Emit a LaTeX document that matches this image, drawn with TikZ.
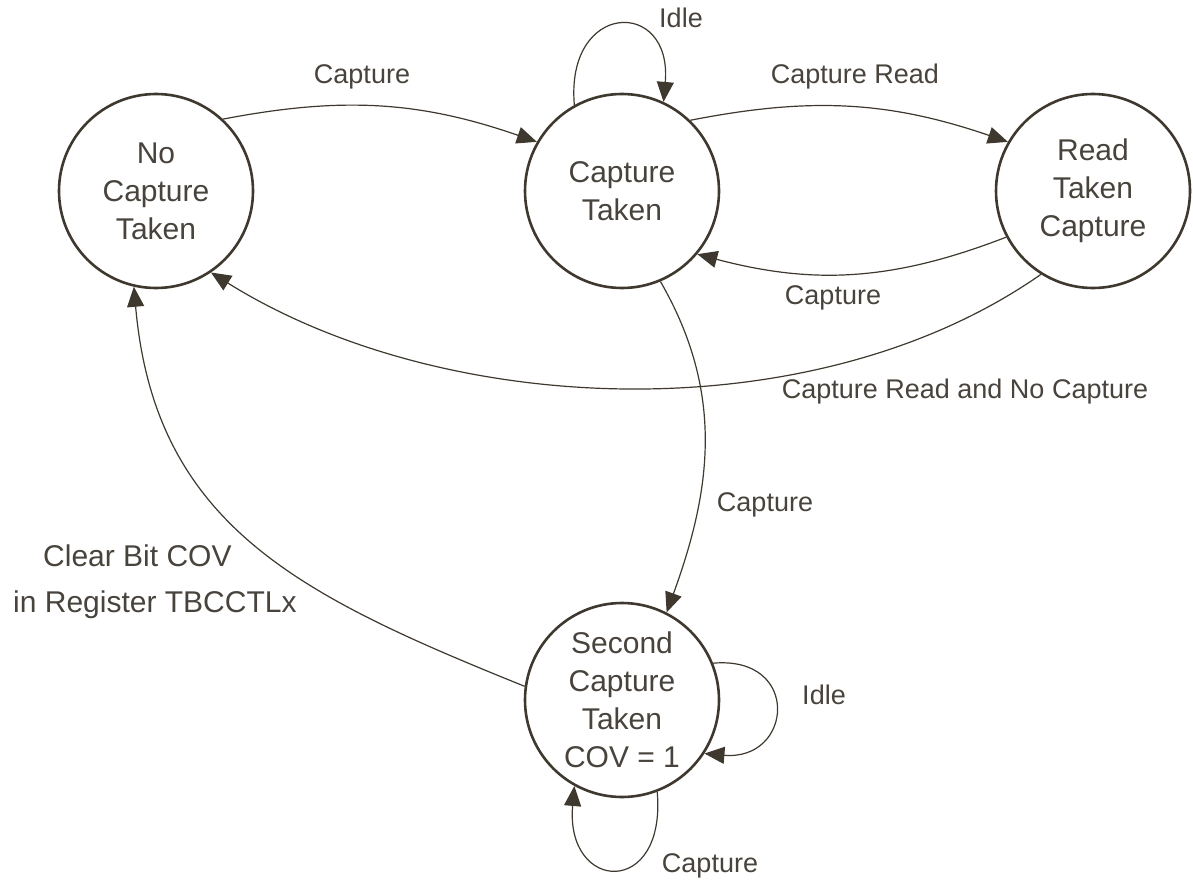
\documentclass[tikz,border=0pt]{standalone}
\usepackage{fontspec}
\setmainfont{Liberation Sans}
\usetikzlibrary{arrows.meta}
\definecolor{ink}{RGB}{62,56,46}
\definecolor{txt}{RGB}{72,67,60}
\tikzset{
  state/.style={circle, draw=ink, line width=2.6pt, minimum size=194pt, inner sep=0pt,
    align=center, font=\fontsize{30}{38}\selectfont, text=txt},
  conn/.style={draw=ink, line width=1.2pt, -{Triangle[length=20pt,width=17pt]}},
  lbl/.style={font=\fontsize{27}{32}\selectfont, text=txt, inner sep=0pt},
  biglbl/.style={font=\fontsize{30}{36}\selectfont, text=txt, inner sep=0pt}
}
\begin{document}
\begin{tikzpicture}[x=1pt,y=-1pt]
\useasboundingbox (0,0) rectangle (1193,880);
\node[state] (A) at (156,191) {No\\Capture\\Taken};
\node[state] (B) at (622,191) {Capture\\Taken};
\node[state] (C) at (1093,191) {Read\\Taken\\Capture};
\node[state] (D) at (622,700) {Second\\Capture\\Taken\\COV = 1};

\draw[conn] (A.47) to[bend left=15] (B.150);
\draw[conn] (B.119) to[out=95,in=85,looseness=3] (B.65);
\draw[conn] (B.46) to[bend left=15] (C.150);
\draw[conn] (C.208) to[bend left=18] (B.-40);
\draw[conn] (C.238) to[out=215,in=-32,looseness=0.85] (A.-56);
\draw[conn] (B.-67) to[out=-60,in=70] (D.63);
\draw[conn] (D.172) to[out=158,in=-85,looseness=1.1] (A.-103);
\draw[conn] (D.22) to[out=5,in=-5,looseness=2.5] (D.-33);
\draw[conn] (D.-69) to[out=-85,in=-95,looseness=3.3] (D.-119);

\node[lbl] (l1) at (362,77) {Capture};
\node[lbl] (l2) at (681,18) {Idle};
\node[lbl] (l3) at (855,77) {Capture Read};
\node[lbl] (l4) at (833,298) {Capture};
\node[lbl] (l5) at (965,392) {Capture Read and No Capture};
\node[lbl] (l6) at (765,505) {Capture};
\node[biglbl, anchor=base west] (l7) at (43,566) {Clear Bit COV};
\node[biglbl, anchor=base west] (l8) at (13,612) {in Register TBCCTLx};
\node[lbl] (l9) at (824,695) {Idle};
\node[lbl] (l10) at (710,866) {Capture};
\end{tikzpicture}
\end{document}
